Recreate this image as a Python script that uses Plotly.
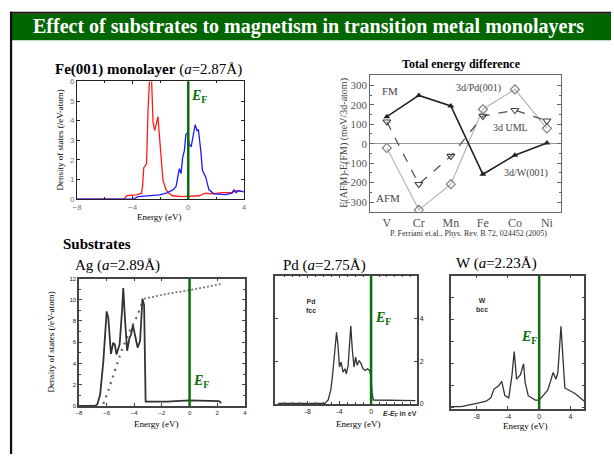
import plotly.graph_objects as go

W, H = 614, 459
SERIF = "Liberation Serif"
SANS = "Liberation Sans"
GREEN = "#0b6e0b"

# ---------------- data ----------------
# Fe(001) monolayer DOS
fe_maj_e = [-8, -4.6, -4.43, -3.72, -3.36, -3.29, -3.2, -3.0, -2.89, -2.77, -2.65, -2.53, -2.41, -2.25, -2.18,
            -2.06, -1.94, -1.82, -1.59, -1.35, -1.11, -0.4, 0.78, 1.25, 1.73, 2.44, 3.15, 3.38, 4.0]
fe_maj_d = [0, 0, 0.18, 0.22, 0.3, 0.63, 1.6, 1.8, 4.6, 6.3, 6.3, 3.9, 3.5, 4.1, 4.2,
            3.1, 1.8, 0.97, 0.47, 0.27, 0.17, 0.13, 0.17, 0.3, 0.27, 0.33, 0.33, 0.43, 0.38]
fe_min_e = [-8, -3.95, -3.6, -2.77, -2.06, -1.59, -1.11, -0.88, -0.76, -0.64, -0.52, -0.4, -0.28, -0.17, -0.05,
            0.07, 0.21, 0.36, 0.5, 0.64, 0.73, 0.9, 1.02, 1.25, 1.49, 1.85, 2.67, 3.15, 3.27, 3.43, 3.62, 4.0]
fe_min_d = [0, 0, 0.13, 0.17, 0.22, 0.3, 0.47, 0.63, 1.13, 1.55, 1.3, 2.13, 2.47, 3.3, 3.38,
            2.8, 2.67, 3.3, 3.8, 3.47, 3.55, 2.47, 1.47, 1.13, 0.47, 0.27, 0.23, 0.3, 0.47, 0.33, 0.43, 0.37]

# Total energy difference (meV/3d-atom)
elements = ["V", "Cr", "Mn", "Fe", "Co", "Ni"]
dE_W001 = [139, 248, 194, -157, -59, 3]
dE_UML = [113, -208, -64, 142, 172, 118]
dE_Pd001 = [-22, -340, -208, 177, 279, 79]

# Ag substrate DOS
ag_e = [-8, -6.82, -6.66, -6.47, -6.24, -6.0, -5.88, -5.69, -5.53, -5.41, -5.29, -5.06, -4.89, -4.8, -4.66,
        -4.52, -4.35, -4.24, -4.1, -4.0, -3.76, -3.58, -3.41, -3.29, -3.18, -1.65, 0.0, 2.12, 2.3]
ag_d = [0, 0, 0.2, 1.1, 4.2, 8.9, 8.3, 4.9, 5.9, 5.8, 4.85, 5.8, 8.9, 11.1, 7.9,
        5.2, 6.4, 6.7, 7.6, 7.0, 5.5, 6.1, 10.1, 9.5, 0.4, 0.4, 0.52, 0.46, 0.28]
ag_int_e_low = [-6.24, -5.88, -5.41, -4.94, -4.35, -3.76, -3.41]
ag_int_d_low = [0.2, 1.45, 3.3, 5.15, 7.0, 8.55, 9.8]
ag_int_e_high = [-3.29, -1.65, 0.0, 2.35]
ag_int_d_high = [10.1, 10.55, 10.9, 11.5]

# Pd substrate DOS
pd_e = [-11.75, -5.84, -5.43, -5.1, -4.9, -4.69, -4.53, -4.37, -4.2, -4.0, -3.8, -3.55, -3.3, -3.14, -2.9,
        -2.73, -2.57, -2.37, -2.16, -1.96, -1.76, -1.51, -1.27, -1.02, -0.73, -0.45, -0.2, 0.0, 0.12, 0.29, 5.6]
pd_d = [0, 0, 0.16, 0.63, 1.25, 2.03, 2.66, 3.36, 2.8, 1.72, 1.95, 1.48, 1.64, 1.4, 1.8,
        2.66, 3.67, 2.5, 1.72, 2.19, 1.8, 2.03, 1.88, 1.64, 1.56, 1.64, 1.56, 1.25, 0.47, 0.16, 0.13]

# W substrate DOS
w_e = [-11.3, -10, -8, -6.8, -6.2, -5.8, -5.2, -4.8, -4.4, -3.9, -3.5, -3.2, -2.9, -2.4, -2.0,
       -1.8, -1.4, -0.5, 0, 0.5, 1.1, 1.8, 2.15, 2.4, 2.8, 3.1, 3.3, 4.6, 5.6, 5.8]
w_d = [0.05, 0.05, 0.2, 0.3, 0.45, 0.85, 1.0, 1.2, 0.55, 0.45, 1.45, 2.55, 1.3, 1.5, 2.0,
       1.15, 0.55, 0.35, 0.35, 0.55, 0.8, 1.6, 1.3, 1.6, 3.7, 2.0, 0.9, 0.65, 0.35, 0.3]

E_FERMI = 0

# ---------------- helpers ----------------
def px(x):
    return x / W


def py(y):
    return 1 - y / H


def dom_x(a, b):
    return [px(a), px(b)]


def dom_y(top, bottom):
    return [py(bottom), py(top)]


fig = go.Figure()

# Fe panel
fig.add_trace(go.Scatter(x=fe_maj_e, y=fe_maj_d, mode="lines", line=dict(color="#ff1a1a", width=1.3),
                         xaxis="x", yaxis="y"))
fig.add_trace(go.Scatter(x=fe_min_e, y=fe_min_d, mode="lines", line=dict(color="#1a1aff", width=1.3),
                         xaxis="x", yaxis="y"))

# Energy difference panel
fig.add_trace(go.Scatter(x=elements, y=dE_Pd001, mode="lines+markers",
                         line=dict(color="#b5b5b5", width=1.2),
                         marker=dict(symbol="diamond-open", size=7, color="#777", line=dict(width=1.1)),
                         xaxis="x2", yaxis="y2"))
fig.add_trace(go.Scatter(x=elements, y=dE_UML, mode="lines+markers",
                         line=dict(color="#555", width=1.3, dash="dash"),
                         marker=dict(symbol="triangle-down-open", size=7, color="#444", line=dict(width=1.1)),
                         xaxis="x2", yaxis="y2"))
fig.add_trace(go.Scatter(x=elements, y=dE_W001, mode="lines+markers",
                         line=dict(color="#222", width=1.6),
                         marker=dict(symbol="triangle-up", size=6, color="#222"),
                         xaxis="x2", yaxis="y2"))

# Ag panel
fig.add_trace(go.Scatter(x=ag_int_e_low, y=ag_int_d_low, mode="lines",
                         line=dict(color="#666", width=2.2, dash="2px,5px"), xaxis="x3", yaxis="y3"))
fig.add_trace(go.Scatter(x=ag_int_e_high, y=ag_int_d_high, mode="lines",
                         line=dict(color="#777", width=1.8, dash="2px,2px"), xaxis="x3", yaxis="y3"))
fig.add_trace(go.Scatter(x=ag_e, y=ag_d, mode="lines", line=dict(color="#333", width=1.8),
                         xaxis="x3", yaxis="y3"))

# Pd panel
fig.add_trace(go.Scatter(x=pd_e, y=pd_d, mode="lines", line=dict(color="#333", width=1.3),
                         xaxis="x4", yaxis="y4"))

# W panel
fig.add_trace(go.Scatter(x=w_e, y=w_d, mode="lines", line=dict(color="#333", width=1.3),
                         xaxis="x5", yaxis="y5"))

tick_small = dict(ticks="inside", ticklen=3, showline=True, mirror="allticks", showgrid=False, zeroline=False)

layout = dict(
    width=W, height=H, margin=dict(l=0, r=0, t=0, b=0),
    paper_bgcolor="white", plot_bgcolor="white", showlegend=False,
    # Fe
    xaxis=dict(domain=dom_x(73, 242), range=[-8, 4], tickvals=[-8, -4, 0, 4], ticktext=["−8", "−4", "0", "4"],
               linecolor="#222", linewidth=1, tickcolor="#222",
               minor=dict(dtick=2, ticks="inside", ticklen=2, tickcolor="#222"),
               tickfont=dict(family=SANS, size=8, color="#777"), anchor="y", **tick_small),
    yaxis=dict(domain=dom_y(79, 199), range=[0, 6], dtick=1, linecolor="#222", linewidth=1, tickcolor="#222",
               tickfont=dict(family=SANS, size=8, color="#777"), anchor="x", **tick_small),
    # Energy difference
    xaxis2=dict(domain=dom_x(370, 563), type="category", range=[-0.52, 5.43], showline=True, mirror=True,
                linecolor="#666", linewidth=1, showgrid=False, zeroline=False, ticks="",
                tickfont=dict(family=SERIF, size=12, color="#555"), anchor="y2"),
    yaxis2=dict(domain=dom_y(72, 212), range=[-350, 355], tickvals=[-300, -200, -100, 0, 100, 200, 300],
                showline=True, mirror="allticks", linecolor="#666", linewidth=1, ticks="inside", ticklen=4,
                tickcolor="#666", minor=dict(dtick=50, ticks="inside", ticklen=2, tickcolor="#666"),
                showgrid=False, zeroline=True, zerolinecolor="#999", zerolinewidth=1,
                tickfont=dict(family=SERIF, size=11, color="#555"), anchor="x2"),
    # Ag
    xaxis3=dict(domain=dom_x(75, 243), range=[-8, 4], dtick=2, linecolor="#444", linewidth=1.5, tickcolor="#444",
                tickfont=dict(family=SANS, size=6, color="#222"), anchor="y3", **tick_small),
    yaxis3=dict(domain=dom_y(280, 410), range=[0, 12], dtick=2, linecolor="#444", linewidth=1.5, tickcolor="#444",
                minor=dict(dtick=1, ticks="inside", ticklen=2, tickcolor="#444"),
                tickfont=dict(family=SANS, size=6, color="#222"), anchor="x3", **tick_small),
    # Pd
    xaxis4=dict(domain=dom_x(274, 417), range=[-12.1, 5.75], tickvals=[-8, -4, 0], ticktext=["-8", "-4", "0"],
                linecolor="#444", linewidth=1.5, tickcolor="#444",
                minor=dict(dtick=1, ticks="inside", ticklen=2, tickcolor="#444"),
                tickfont=dict(family=SANS, size=7, color="#222"), anchor="y4", **tick_small),
    yaxis4=dict(domain=dom_y(277, 408), range=[-0.03, 6.05], tickvals=[0, 2, 4], side="right",
                linecolor="#444", linewidth=1.5, tickcolor="#444",
                tickfont=dict(family=SANS, size=7, color="#222"), anchor="x4", **tick_small),
    # W
    xaxis5=dict(domain=dom_x(452, 587), range=[-11.3, 5.8], tickvals=[-8, -4, 0, 4], ticktext=["-8", "-4", "0", "4"],
                linecolor="#444", linewidth=1.5, tickcolor="#444",
                tickfont=dict(family=SANS, size=7, color="#222"), anchor="y5", **tick_small),
    yaxis5=dict(domain=dom_y(277, 413), range=[-0.05, 6.0], dtick=1, showticklabels=False,
                linecolor="#444", linewidth=1.5, tickcolor="#444", anchor="x5", **tick_small),
)
fig.update_layout(**layout)

# ---------------- slide decoration ----------------
shapes = [
    dict(type="rect", xref="paper", yref="paper", x0=px(7), x1=1, y0=py(37), y1=py(10),
         fillcolor="#006600", line=dict(width=0), layer="below"),
    dict(type="rect", xref="paper", yref="paper", x0=px(5), x1=1, y0=py(10), y1=py(8),
         fillcolor="#111", line=dict(width=0), layer="below"),
    dict(type="rect", xref="paper", yref="paper", x0=px(5), x1=px(7.3), y0=0, y1=py(8),
         fillcolor="#111", line=dict(width=0), layer="below"),
]
# Fermi level lines
for xr in ["x", "x3", "x4", "x5"]:
    yr = "y" + xr[1:]
    shapes.append(dict(type="line", xref=xr, yref=yr + " domain", x0=E_FERMI, x1=E_FERMI, y0=0, y1=1,
                       line=dict(color=GREEN, width=2.5)))
fig.update_layout(shapes=shapes)


def ann(text, x, y, size, color="black", family=SERIF, xanchor="center", yanchor="middle", angle=0):
    fig.add_annotation(text=text, x=px(x), y=py(y), xref="paper", yref="paper", showarrow=False,
                       xanchor=xanchor, yanchor=yanchor, textangle=angle,
                       font=dict(family=family, size=size, color=color))


ann("<b>Effect of substrates to magnetism in transition metal monolayers</b>", 308, 23, 20, color="white")

# Fe panel labels
ann("<b>Fe(001) monolayer</b> (<i>a</i>=2.87Å)", 49, 67, 15, xanchor="left")
ann("Density of states (/eV-atom)", 56, 139, 9, angle=-90)
ann("Energy (eV)", 157, 217, 9)
ef = "<b><i>E</i></b><b><sub>F</sub></b>"
ann(ef, 186, 94, 14, color=GREEN, xanchor="left")

# Energy difference panel labels
ann("<b>Total energy difference</b>", 463, 61, 12)
ann("E(AFM)-E(FM) (meV/3d-atom)", 344, 142, 10, color="#444", angle=-90)
ann("FM", 380, 89, 11, color="#444", xanchor="left")
ann("AFM", 374, 198, 11, color="#444", xanchor="left")
ann("3d/Pd(001)", 480, 86, 10, color="#444")
ann("3d UML", 512, 126, 10, color="#444")
ann("3d/W(001)", 528, 172, 10, color="#444")
ann("P. Ferriani et.al., Phys. Rev. B 72, 024452 (2005)", 470, 234, 8, color="#333")

# Substrates
ann("<b>Substrates</b>", 57, 245, 15, xanchor="left")
ann("Ag (<i>a</i>=2.89Å)", 69, 267, 15, xanchor="left")
ann("Density of states (/eV-atom)", 47, 345, 9, angle=-90)
ann("Energy (eV)", 153, 428, 9)
ann(ef, 188, 385, 14, color=GREEN, xanchor="left")

ann("Pd (<i>a</i>=2.75Å)", 280, 267, 15, xanchor="left")
ann("<b>Pd<br>fcc</b>", 303, 308, 7, family=SANS, color="#333", xanchor="left")
ann("<b><i>E-E</i><sub>F</sub> in eV</b>", 381, 418, 7, family=SANS, color="#333", xanchor="left")
ann("Energy (eV)", 358, 428, 9)
ann(ef, 373, 321, 14, color=GREEN, xanchor="left")

ann("W (<i>a</i>=2.23Å)", 455, 265, 15, xanchor="left")
ann("<b>W<br>bcc</b>", 475, 307, 7, family=SANS, color="#333", xanchor="left")
ann("Energy (eV)", 527, 430, 9)
ann(ef, 541, 340, 14, color=GREEN, xanchor="right")

fig.write_html("out.html")
